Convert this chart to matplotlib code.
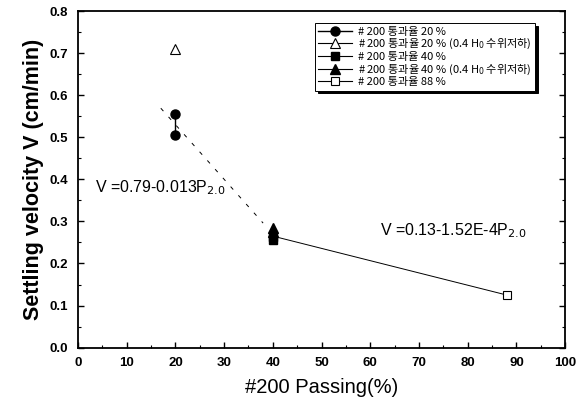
import matplotlib
matplotlib.use("Agg")
from matplotlib import pyplot as plt
from matplotlib.ticker import MultipleLocator

# measured settling velocities (cm/min) vs #200 passing (%)
p20_x = [20, 20]
p20_v = [0.555, 0.505]
p20_low_x = [20]
p20_low_v = [0.71]
p40_x = [40, 40]
p40_v = [0.255, 0.262]
p40_low_x = [40, 40]
p40_low_v = [0.285, 0.275]
p88_x = [88]
p88_v = [0.125]

# fitted trend lines
fit1_x = [17.0, 38.0]
fit1_v = [0.79 - 0.013 * 17.0, 0.79 - 0.013 * 38.0]
fit2_x = [40, 88]
fit2_v = [0.265, 0.125]

labels = ["# 200 통과율 20 %",
          "# 200 통과율 20 % (0.4 H$_0$ 수위저하)",
          "# 200 통과율 40 %",
          "# 200 통과율 40 % (0.4 H$_0$ 수위저하)",
          "# 200 통과율 88 %"]

plt.rcParams['font.family'] = ['Liberation Sans', 'DejaVu Sans']
fig = plt.figure(figsize=(5.82, 4.08), dpi=100)
ax = fig.add_axes([0.134, 0.148, 0.837, 0.825])

ax.plot(fit1_x, fit1_v, color="black", lw=0.7, dashes=(4, 8))
ax.plot(fit2_x, fit2_v, color="black", lw=0.7)

h1, = ax.plot(p20_x, p20_v, color="black", lw=1.0, marker="o", ms=6.5)
h2, = ax.plot(p20_low_x, p20_low_v, color="black", lw=0.8, marker="^", ms=7,
              mfc="white", mew=0.8)
h3, = ax.plot(p40_x, p40_v, color="black", lw=0.8, marker="s", ms=5.5)
h4, = ax.plot(p40_low_x, p40_low_v, color="black", lw=0.8, marker="^", ms=7)
h5, = ax.plot(p88_x, p88_v, color="black", lw=0.8, marker="s", ms=6,
              mfc="white", mew=0.8)

leg = ax.legend([h1, h2, h3, h4, h5], labels, loc="upper left",
                bbox_to_anchor=(0.475, 0.98), handlelength=3.0,
                handletextpad=0.6, borderpad=0.3,
                fancybox=False, shadow={'color': 'black', 'alpha': 1},
                edgecolor="black", framealpha=1, labelspacing=0.05,
                prop={'family': ['Noto Sans CJK KR', 'DejaVu Sans'], 'size': 8.0})
leg.get_frame().set_linewidth(0.7)

ax.text(3.5, 0.38, "V =0.79-0.013P$_{2.0}$", fontsize=11.5, va="center", ha="left")
ax.text(62, 0.277, "V =0.13-1.52E-4P$_{2.0}$", fontsize=11.5, va="center", ha="left")

ax.set_xlim(0, 100)
ax.set_ylim(0, 0.8)
ax.xaxis.set_major_locator(MultipleLocator(10))
ax.xaxis.set_minor_locator(MultipleLocator(5))
ax.yaxis.set_major_locator(MultipleLocator(0.1))
ax.yaxis.set_minor_locator(MultipleLocator(0.05))
ax.tick_params(which="both", direction="in", top=False, right=True, labelsize=9.5)
ax.tick_params(which="major", length=4, width=1, pad=7)
ax.tick_params(which="minor", length=2.5, width=0.8)
for lab in ax.get_xticklabels() + ax.get_yticklabels():
    lab.set_fontweight("bold")
for s in ax.spines.values():
    s.set_linewidth(1.3)

ax.set_xlabel("#200 Passing(%)", fontsize=14.5, labelpad=6)
ax.set_ylabel("Settling velocity V (cm/min)", fontsize=15.5, fontweight="bold", labelpad=4)

fig.savefig("out.png", dpi=100)
